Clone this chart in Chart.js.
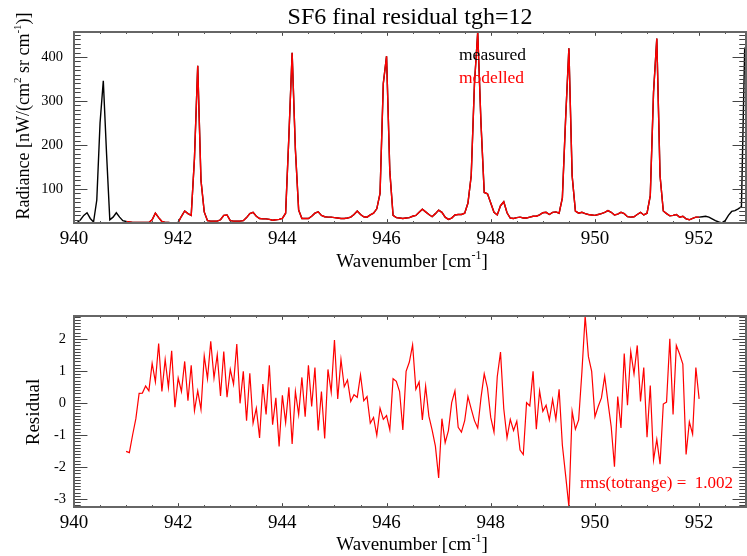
<!DOCTYPE html>
<html>
<head>
<meta charset="utf-8">
<script src="https://cdn.jsdelivr.net/npm/chart.js@4.4.1/dist/chart.umd.min.js"></script>
<style>
  html, body { margin: 0; padding: 0; background: #fff; }
  #wrap { position: relative; width: 747px; height: 556px; }
  canvas { position: absolute; left: 0; }
</style>
</head>
<body>
<div id="wrap">
  <canvas id="specChart" width="747" height="280" style="top:0"></canvas>
  <canvas id="residChart" width="747" height="276" style="top:280px"></canvas>
</div>
<script>
// spectral grid (cm-1)
const WN_START = 940.0;
const WN_STEP = 0.0625;
const FIT_START = 941.0;
const WN_END = 952.9;

// measured radiance, 940.0 .. 952.875
const measured = [
    23, 24, 30, 40, 46, 33, 25, 75, 250, 346,
    180, 30, 36, 46, 36, 28, 26, 25, 24, 24,
    24, 24, 24, 24, 30, 45, 35, 26, 24, 24,
    23, 23, 24, 38, 50, 44, 40, 170, 380, 120,
    48, 28, 27, 27, 27, 30, 40, 41, 28, 27,
    27, 27, 28, 35, 44, 47, 38, 33, 32, 32,
    31, 29, 30, 31, 33, 45, 220, 410, 190, 52,
    33, 33, 33, 38, 45, 48, 40, 37, 36, 36,
    35, 34, 33, 33, 34, 36, 42, 50, 42, 37,
    36, 41, 45, 55, 90, 340, 402, 140, 40, 35,
    34, 33, 34, 35, 38, 40, 47, 54, 48, 42,
    37, 44, 52, 47, 36, 31, 34, 41, 42, 42,
    45, 68, 130, 340, 457, 250, 92, 89, 68, 47,
    41, 62, 71, 46, 34, 33, 35, 36, 34, 34,
    36, 38, 38, 41, 46, 47, 42, 47, 48, 45,
    80, 260, 420, 130, 50, 45, 47, 44, 42, 41,
    40, 42, 44, 47, 51, 47, 41, 43, 47, 44,
    37, 36, 37, 42, 47, 41, 45, 85, 320, 442,
    130, 50, 44, 39, 40, 42, 36, 38, 32, 30,
    33, 36, 36, 37, 38, 36, 32, 28, 25, 23,
    28, 40, 49, 51, 55, 60, 422
];

// modelled radiance, 941.0 .. 952.0
const modelled = [
    26, 25, 24, 24,
    24, 24, 24, 24, 30, 45, 35, 26, 24, 24,
    23, 23, 24, 38, 50, 44, 40, 170, 380, 120,
    48, 28, 27, 27, 27, 30, 40, 41, 28, 27,
    27, 27, 28, 35, 44, 47, 38, 33, 32, 32,
    31, 29, 30, 31, 33, 45, 220, 410, 190, 52,
    33, 33, 33, 38, 45, 48, 40, 37, 36, 36,
    35, 34, 33, 33, 34, 36, 42, 50, 42, 37,
    36, 41, 45, 55, 90, 340, 402, 140, 40, 35,
    34, 33, 34, 35, 38, 40, 47, 54, 48, 42,
    37, 44, 52, 47, 36, 31, 34, 41, 42, 42,
    45, 68, 130, 340, 457, 250, 92, 89, 68, 47,
    41, 62, 71, 46, 34, 33, 35, 36, 34, 34,
    36, 38, 38, 41, 46, 47, 42, 47, 48, 45,
    80, 260, 420, 130, 50, 45, 47, 44, 42, 41,
    40, 42, 44, 47, 51, 47, 41, 43, 47, 44,
    37, 36, 37, 42, 47, 41, 45, 85, 320, 442,
    130, 50, 44, 39, 40, 42, 36, 38, 32, 30,
    33, 36, 36
];

// residual, 941.0 .. 952.0
const residual = [
    -1.51, -1.55, -1.0, -0.49, 0.30, 0.31, 0.53, 0.38, 1.24, 0.66,
    1.86, 0.36, 1.36, 0.49, 1.63, -0.13, 0.78, 0.36, 1.30, 0.07,
    1.18, -0.24, 0.38, -0.20, 1.47, 0.76, 1.93, 0.78, 1.51, 0.22,
    1.61, 0.18, 1.05, 0.59, 1.84, -0.01, 0.99, -0.55, 0.93, -0.63,
    -0.16, -1.09, 0.59, -0.36, 1.18, -0.68, 0.16, -1.36,
    0.24, -0.61, 0.49, -1.28, 0.36, -0.36, 0.80, -0.43, 1.18, -0.11,
    1.11, -0.86, 0.36, -1.11, 1.05, 0.34, 1.97, 0.13, 1.36, 0.51,
    0.72, 0.05, 0.26, 0.18, 0.88, 0.07, 0.20, -0.63, -0.45, -1.01,
    -0.16, -0.51, -0.39, -0.84, 0.76, 0.68, 0.36, -0.84, 0.99, 1.28,
    1.82, 0.43, 0.66, -0.53, 0.53, -0.41, -0.85, -1.35, -2.34,
    -0.49, -1.24, -0.86, 0.01, 0.38, -0.76, -0.91, -0.55, 0.20, -0.18,
    -0.55, -0.78, 0.16, 0.91, 0.47, -0.45, -0.91, 0.82, 1.59, -0.18,
    -1.09, -0.51, -0.86, -0.57, -1.47, -1.61, 0.01, -0.09, 0.99, -0.82,
    0.38, -0.26, -0.07, -0.53, 0.11, -0.51, 0.43, -1.32, -2.26, -3.24,
    -0.26, -0.82, -0.53, 0.97, 2.72,
    1.45, 0.99, -0.43, -0.11, 0.16, 0.84, 0.03, -0.74, -1.99, 0.20,
    -0.78, 1.55, -0.07, 1.61, 0.91, 1.80, 0.05, 1.11, -1.07, 0.55,
    -1.78, -1.14, -1.91, -0.03, 0.03, 2.01, -0.36, 1.80, 1.53, 1.22,
    -1.61, -0.59, -0.97, 1.11, 0.13
];

const xTickValues = [940, 942, 944, 946, 948, 950, 952];
const specYTicks = [100, 200, 300, 400];
const residYTicks = [-3, -2, -1, 0, 1, 2];
const rmsValue = 1.002;

const SERIF = '"Liberation Serif", "Times New Roman", serif';

// 波数グリッドに値を載せる
function toPoints(values, start) {
    return values.map((v, i) => ({ x: start + i * WN_STEP, y: v }));
}

// 上付き文字を含むテキストを描く (parts: [文字列, 上付きか])
function drawRich(ctx, parts, x, y, size, color, align) {
    const supSize = Math.round(size * 0.62);
    let total = 0;
    parts.forEach(([t, sup]) => {
        ctx.font = (sup ? supSize : size) + 'px ' + SERIF;
        total += ctx.measureText(t).width;
    });
    let cx = align === 'center' ? x - total / 2 : x;
    ctx.fillStyle = color;
    ctx.textBaseline = 'alphabetic';
    ctx.textAlign = 'left';
    parts.forEach(([t, sup]) => {
        ctx.font = (sup ? supSize : size) + 'px ' + SERIF;
        ctx.fillText(t, cx, sup ? y - size * 0.42 : y);
        cx += ctx.measureText(t).width;
    });
}

// IDL風の枠と内向きの目盛り
const idlFrame = {
    id: 'idlFrame',
    afterDatasetsDraw(chart, args, opts) {
        const { ctx, chartArea: a, scales: { x, y } } = chart;
        ctx.save();
        ctx.strokeStyle = '#444';
        ctx.lineWidth = 1;
        ctx.beginPath();
        const xMaj = 0.02 * a.height, yMaj = 0.02 * a.width;
        const i0 = Math.ceil(x.min / opts.xMinor - 1e-9), i1 = Math.floor(x.max / opts.xMinor + 1e-9);
        for (let i = i0; i <= i1; i++) {
            const v = i * opts.xMinor;
            const major = Math.abs(v / opts.xMajor - Math.round(v / opts.xMajor)) < 1e-6;
            const len = major ? xMaj : xMaj / 2;
            const px = Math.round(x.getPixelForValue(v)) + 0.5;
            ctx.moveTo(px, a.bottom); ctx.lineTo(px, a.bottom - len);
            ctx.moveTo(px, a.top); ctx.lineTo(px, a.top + len);
        }
        const j0 = Math.ceil(y.min / opts.yMinor - 1e-9), j1 = Math.floor(y.max / opts.yMinor + 1e-9);
        for (let j = j0; j <= j1; j++) {
            const v = j * opts.yMinor;
            const major = Math.abs(v / opts.yMajor - Math.round(v / opts.yMajor)) < 1e-6;
            const len = major ? yMaj : yMaj / 2;
            const py = Math.round(y.getPixelForValue(v)) + 0.5;
            ctx.moveTo(a.left, py); ctx.lineTo(a.left + len, py);
            ctx.moveTo(a.right, py); ctx.lineTo(a.right - len, py);
        }
        ctx.stroke();
        ctx.strokeStyle = '#666';
        ctx.lineWidth = 2;
        ctx.strokeRect(a.left, a.top, a.width, a.height);
        ctx.restore();
    }
};

// 軸タイトルなどの文字
const labelsPlugin = {
    id: 'panelText',
    afterDraw(chart, args, opts) {
        const ctx = chart.ctx;
        ctx.save();
        (opts.texts || []).forEach(t => {
            if (t.rotate) {
                ctx.save();
                ctx.translate(t.x, t.y);
                ctx.rotate(-Math.PI / 2);
                drawRich(ctx, t.parts, 0, 0, t.size, t.color, 'center');
                ctx.restore();
            } else {
                drawRich(ctx, t.parts, t.x, t.y, t.size, t.color, t.align);
            }
        });
        ctx.restore();
    }
};

function baseScales(yMin, yMax, yTicks, xHeight, yPad) {
    return {
        x: {
            type: 'linear',
            min: WN_START,
            max: WN_END,
            afterFit: s => { s.height = xHeight; },
            afterBuildTicks: s => { s.ticks = xTickValues.map(v => ({ value: v })); },
            grid: { display: false, drawTicks: false },
            border: { display: false },
            ticks: {
                padding: 5,
                color: '#000',
                font: { family: SERIF, size: 19 },
                maxRotation: 0,
                autoSkip: false,
                callback: v => String(v)
            }
        },
        y: {
            type: 'linear',
            min: yMin,
            max: yMax,
            afterFit: s => { s.width = 74; },
            afterBuildTicks: s => { s.ticks = yTicks.map(v => ({ value: v })); },
            grid: { display: false, drawTicks: false },
            border: { display: false },
            ticks: {
                padding: yPad,
                color: '#000',
                font: { family: SERIF, size: 14.5 },
                autoSkip: false,
                callback: v => String(v)
            }
        }
    };
}

const wnLabel = [['Wavenumber [cm', false], ['-1', true], [']', false]];

new Chart(document.getElementById('specChart'), {
    type: 'line',
    data: {
        datasets: [
            {
                label: 'modelled',
                data: toPoints(modelled, FIT_START),
                borderColor: '#ff0000',
                borderWidth: 1.4
            },
            {
                label: 'measured',
                data: toPoints(measured, WN_START),
                borderColor: '#000000',
                borderWidth: 1.4
            }
        ]
    },
    options: {
        responsive: false,
        animation: false,
        events: [],
        elements: { point: { radius: 0 }, line: { tension: 0 } },
        layout: { padding: { top: 32, right: 1, left: 0, bottom: 0 } },
        scales: baseScales(22.7, 457, specYTicks, 57, 11),
        plugins: {
            legend: { display: false },
            tooltip: { enabled: false },
            idlFrame: { xMajor: 2, xMinor: 0.5, yMajor: 100, yMinor: 10 },
            panelText: {
                texts: [
                    { parts: [['SF6 final residual tgh=12', false]], x: 410, y: 24, size: 24, color: '#000', align: 'center' },
                    { parts: [['measured', false]], x: 459, y: 60, size: 17.5, color: '#000', align: 'left' },
                    { parts: [['modelled', false]], x: 459, y: 83, size: 17.5, color: '#ff0000', align: 'left' },
                    { parts: wnLabel, x: 412, y: 267, size: 19, color: '#000', align: 'center' },
                    { parts: [['Radiance [nW/(cm', false], ['2', true], [' sr cm', false], ['-1', true], [')]', false]],
                      x: 29, y: 116, size: 18, color: '#000', rotate: true }
                ]
            }
        }
    },
    plugins: [idlFrame, labelsPlugin]
});

new Chart(document.getElementById('residChart'), {
    type: 'line',
    data: {
        datasets: [
            {
                label: 'residual',
                data: toPoints(residual, FIT_START),
                borderColor: '#ff0000',
                borderWidth: 1.2
            }
        ]
    },
    options: {
        responsive: false,
        animation: false,
        events: [],
        elements: { point: { radius: 0 }, line: { tension: 0 } },
        layout: { padding: { top: 36, right: 1, left: 0, bottom: 0 } },
        scales: baseScales(-3.25, 2.72, residYTicks, 49, 8),
        plugins: {
            legend: { display: false },
            tooltip: { enabled: false },
            idlFrame: { xMajor: 2, xMinor: 0.5, yMajor: 1, yMinor: 0.1 },
            panelText: {
                texts: [
                    { parts: wnLabel, x: 412, y: 270, size: 19, color: '#000', align: 'center' },
                    { parts: [['Residual', false]], x: 39, y: 132, size: 19, color: '#000', rotate: true },
                    { parts: [['rms(totrange) =  ' + rmsValue.toFixed(3), false]], x: 580, y: 208, size: 17, color: '#ff0000', align: 'left' }
                ]
            }
        }
    },
    plugins: [idlFrame, labelsPlugin]
});
</script>
</body>
</html>
